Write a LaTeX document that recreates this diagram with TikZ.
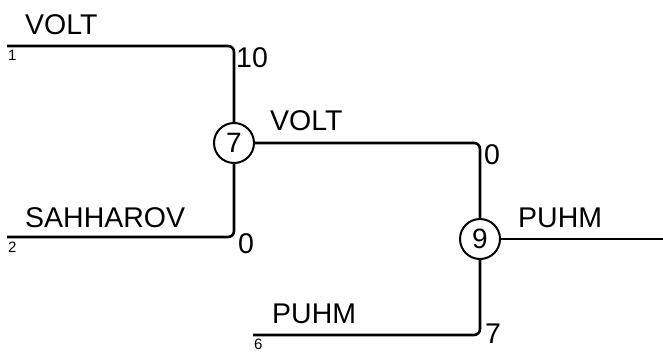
\documentclass[tikz,border=0pt]{standalone}
\usepackage{fontspec}
\setmainfont{Liberation Sans}
\begin{document}
\begin{tikzpicture}[x=1pt,y=-1pt,
  wire/.style={line width=2.6pt,rounded corners=6pt},
  junc/.style={circle,draw,line width=2pt,minimum size=40pt,inner sep=0pt,font=\fontsize{28}{30}\selectfont},
  lbl/.style={anchor=base west,inner sep=0pt,font=\fontsize{28.5}{30}\selectfont},
  idx/.style={anchor=base west,inner sep=0pt,font=\fontsize{15}{16}\selectfont}]
\useasboundingbox (0,0) rectangle (663,351);
\node[junc] (c7) at (234,143) {7};
\node[junc] (c9) at (480,239) {9};
\coordinate (s1) at (7,46);
\coordinate (s2) at (7,237);
\coordinate (s6) at (253,335);
\coordinate (out) at (663,239);
\draw[wire] (s1) -| (c7);
\draw[wire] (s2) -| (c7);
\draw[wire] (c7) -| (c9);
\draw[wire] (s6) -| (c9);
\draw[wire] (c9) -- (out);
\node[lbl] (t1) at (25,34) {VOLT};
\node[idx] (i1) at (8,60) {1};
\node[lbl] (w1) at (236,67) {10};
\node[lbl] (t2) at (25,227) {SAHHAROV};
\node[idx] (i2) at (8,252) {2};
\node[lbl] (w2) at (238,253) {0};
\node[lbl] (t3) at (270,130) {VOLT};
\node[lbl] (w3) at (484,164) {0};
\node[lbl] (t4) at (518,227) {PUHM};
\node[lbl] (t6) at (272,323) {PUHM};
\node[idx] (i6) at (254,349) {6};
\node[lbl] (w6) at (485,343) {7};
\end{tikzpicture}
\end{document}
